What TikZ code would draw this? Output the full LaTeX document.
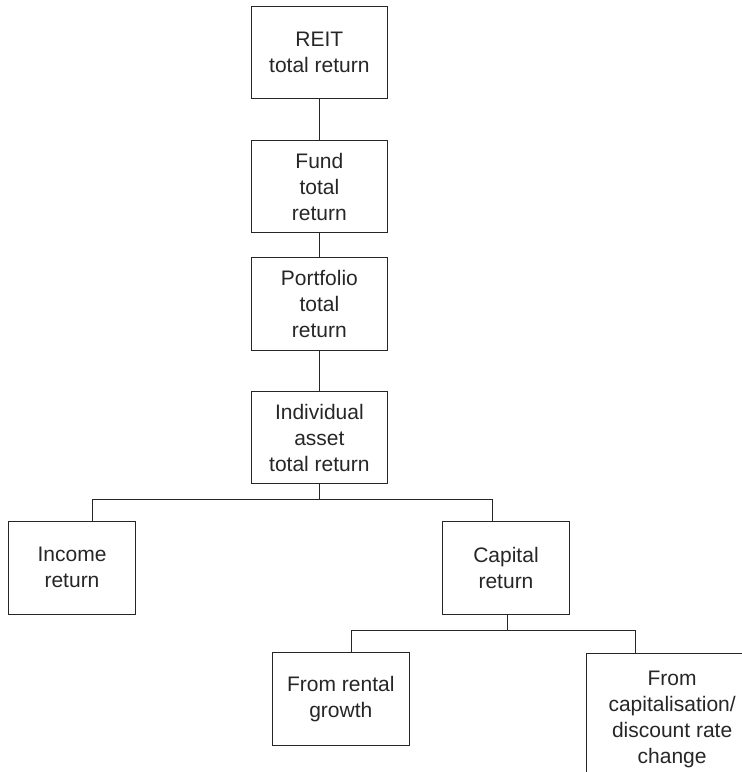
\documentclass[tikz,border=0pt]{standalone}
\usepackage{fontspec}
\setmainfont{Liberation Sans}
\usetikzlibrary{positioning}
\tikzset{
    block/.style={
           rectangle,
           draw=black!85, line width=0.9pt,
           text=black!85,
           minimum width=136.5pt,
           minimum height=92.5pt,
           inner sep=2pt,
           align=center,
           font=\fontsize{21}{26}\selectfont,
           },
}
\tikzset{
    link/.style={
           draw=black!85, line width=0.9pt,
           },
}

\begin{document}
\begin{tikzpicture}[x=1pt,y=1pt]
\useasboundingbox (0,0) rectangle (742,772);
\clip (0,0) rectangle (742,772);
\node[block](reit) at (319.4,719.7){REIT\\total return};
\node[block,below = 41pt of reit](fund){Fund\\total\\return};
\node[block,below = 24pt of fund](port){Portfolio\\total\\return};
\node[block,below = 40pt of port](indiv){Individual\\asset\\total return};
\node[block,minimum width=126.5pt](income) at (72,204.2){Income\\return};
\node[block,minimum width=126.5pt](capital) at (506,204.2){Capital\\return};
\node[block](rental) at (340.8,73.2){From rental\\growth};
\node[block,anchor=north west,minimum width=172pt,minimum height=132pt](discount) at (585.7,119.3){From\\capitalisation/\\discount rate\\change};
\coordinate (incomein) at (92.3,250.3);
\coordinate (capitalin) at (492.3,250.3);
\coordinate (capitalout) at (507.7,158);
\coordinate (rentalin) at (351.7,119.3);
\coordinate (discountin) at (635,119.3);
\draw[link] (reit) -- (fund);
\draw[link] (fund) -- (port);
\draw[link] (port) -- (indiv);
\draw[link] (indiv.south) -- ++(0,-15.3) -| (incomein);
\draw[link] (indiv.south) -- ++(0,-15.3) -| (capitalin);
\draw[link] (capitalout) -- ++(0,-16) -| (rentalin);
\draw[link] (capitalout) -- ++(0,-16) -| (discountin);
\end{tikzpicture}
\end{document}
